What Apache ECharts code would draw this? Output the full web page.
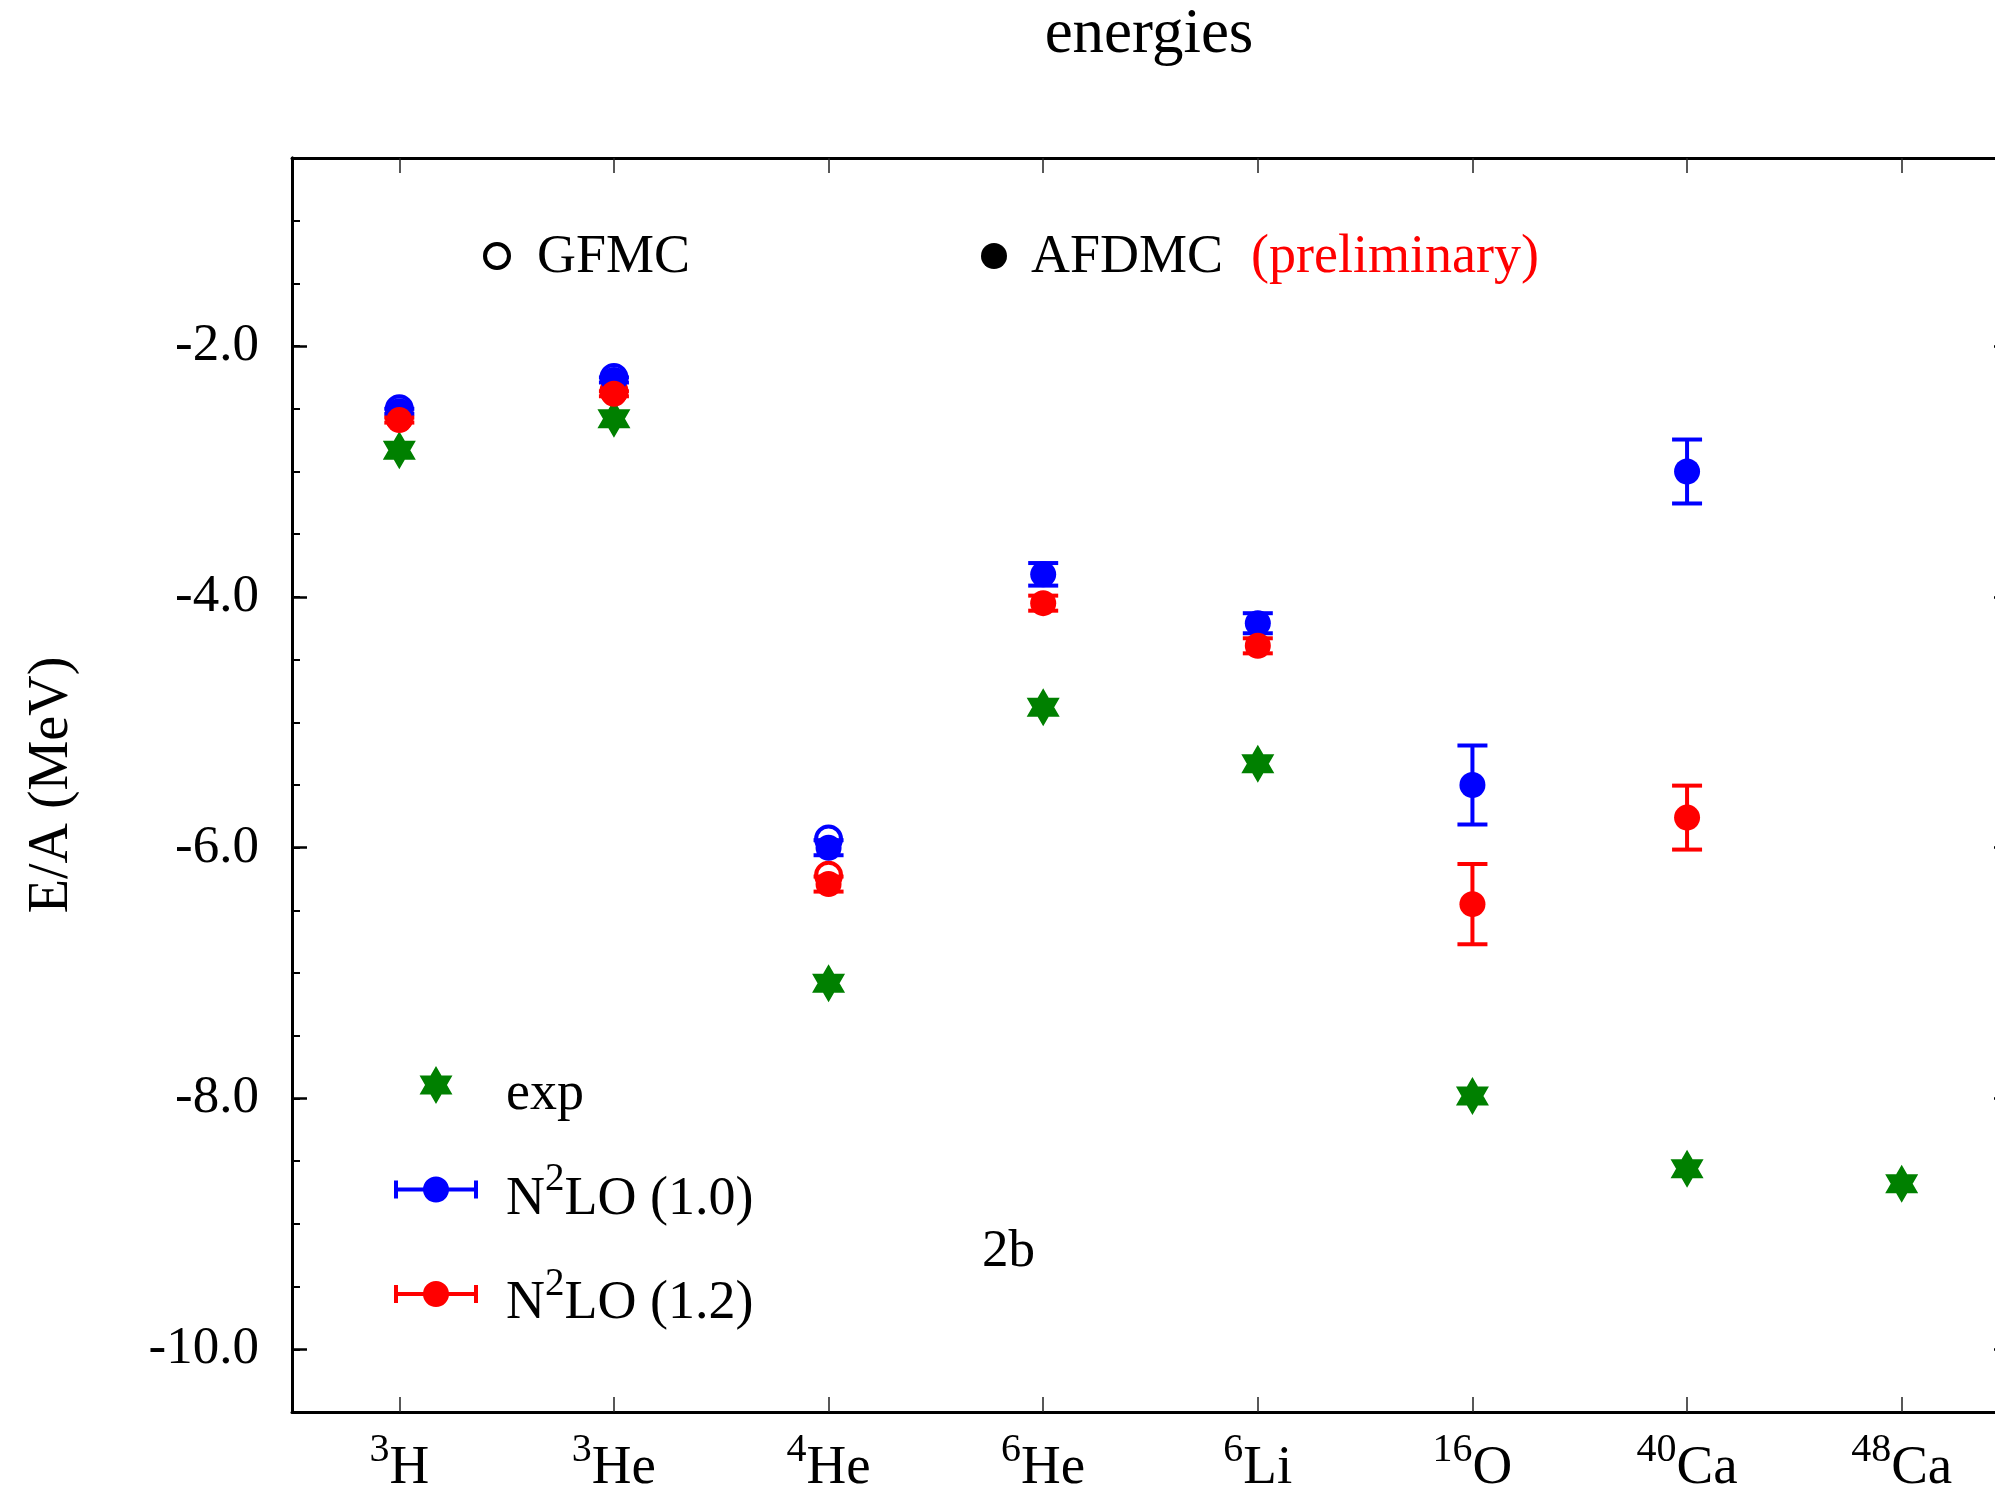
<!DOCTYPE html>
<html>
<head>
<meta charset="utf-8">
<title>energies</title>
<script src="https://cdn.jsdelivr.net/npm/echarts@6/dist/echarts.min.js"></script>
<style>
  html, body { margin: 0; padding: 0; background: #fff; }
  #chart { width: 1995px; height: 1498px; }
</style>
</head>
<body>
<div id="chart"></div>
<script>
// nuclei on the x axis (mass number + element)
const nuclei = ['3H', '3He', '4He', '6He', '6Li', '16O', '40Ca', '48Ca'];

// E/A in MeV
const expEnergy = [-2.83, -2.58, -7.08, -4.88, -5.33, -7.98, -8.56, -8.68];
const gfmc10 = [-2.50, -2.25, -5.93, null, null, null, null, null];
const gfmc12 = [-2.57, -2.36, -6.22, null, null, null, null, null];
const afdmc10 = [-2.52, -2.27, -6.00, -3.82, -4.21, -5.50, -3.00, null];
const afdmc10Err = [0.02, 0.02, 0.06, 0.09, 0.08, 0.315, 0.255, null];
const afdmc12 = [-2.59, -2.38, -6.29, -4.05, -4.39, -6.45, -5.76, null];
const afdmc12Err = [0.02, 0.02, 0.06, 0.06, 0.06, 0.32, 0.255, null];

const yMajorTicks = [-10, -8, -6, -4, -2];
const yMinorTicks = [-10.5, -10, -9.5, -9, -8.5, -8, -7.5, -7, -6.5, -6, -5.5, -5,
  -4.5, -4, -3.5, -3, -2.5, -2, -1.5, -1, -0.5];

const FONT = 'Liberation Serif';
const BLUE = '#0000ff', RED = '#ff0000', GREEN = '#008000';

const starSymbol = 'path://M50,0 L93.3,75 L6.7,75 Z M50,100 L6.7,25 L93.3,25 Z';
const starIcon = 'path://M0,0 Z M107,38 Z M42,0 L58.45,28.5 L25.55,28.5 Z M42,38 L25.55,9.5 L58.45,9.5 Z';
const barIcon = 'path://M0,0 Z M107,38 Z M0,17 L84,17 L84,21 L0,21 Z M0,10 L4,10 L4,28 L0,28 Z ' +
  'M80,10 L84,10 L84,28 L80,28 Z M29,19 A13,13 0 1,1 55,19 A13,13 0 1,1 29,19 Z';

const points = arr => arr.map((v, i) => [i, v]).filter(p => p[1] != null);
const withErr = (arr, err) => arr.map((v, i) => [i, v, err[i]]).filter(p => p[1] != null);

const nucleusLabel = name => {
  const m = name.match(/^(\d+)(\D+)$/);
  return '{sup|' + m[1] + '}{b|' + m[2] + '}';
};

function errorBars(color) {
  return function (params, api) {
    const i = api.value(0), v = api.value(1), e = api.value(2);
    const hi = api.coord([i, v + e]);
    const lo = api.coord([i, v - e]);
    const cap = 15;
    const style = { stroke: color, lineWidth: 4 };
    return {
      type: 'group',
      children: [
        { type: 'line', shape: { x1: hi[0], y1: hi[1], x2: lo[0], y2: lo[1] }, style },
        { type: 'line', shape: { x1: hi[0] - cap, y1: hi[1], x2: hi[0] + cap, y2: hi[1] }, style },
        { type: 'line', shape: { x1: lo[0] - cap, y1: lo[1], x2: lo[0] + cap, y2: lo[1] }, style }
      ]
    };
  };
}

const yBase = {
  type: 'value', min: -10.5, max: -0.5, gridIndex: 0,
  splitLine: { show: false },
  axisLine: { show: true, lineStyle: { color: '#000', width: 3 } },
  axisLabel: { show: false },
};
const xTick = { show: true, inside: true, alignWithLabel: true, length: 15, lineStyle: { color: '#222', width: 1.5 } };
const majorTick = { show: true, inside: true, length: 15, customValues: yMajorTicks, lineStyle: { color: '#000', width: 2.5 } };
const minorTick = { show: true, inside: true, length: 8, customValues: yMinorTicks, lineStyle: { color: '#000', width: 2 } };

const chart = echarts.init(document.getElementById('chart'));
chart.setOption({
  animation: false,
  backgroundColor: '#fff',
  title: {
    text: 'energies', left: 1149, top: 4, padding: 0, textAlign: 'center',
    textStyle: { fontFamily: FONT, fontSize: 63, fontWeight: 'normal', color: '#000', lineHeight: 63 }
  },
  grid: { left: 292, right: -14, top: 158, bottom: 86, outerBoundsMode: 'none', containLabel: false },
  legend: {
    orient: 'vertical', left: 394, top: 1036, padding: 0, itemGap: 6.5,
    itemWidth: 107, itemHeight: 38, selectedMode: false,
    data: [
      { name: 'exp', icon: starIcon, itemStyle: { color: GREEN } },
      { name: 'N2LO (1.0)', icon: barIcon, itemStyle: { color: BLUE } },
      { name: 'N2LO (1.2)', icon: barIcon, itemStyle: { color: RED } }
    ],
    formatter: name => name.replace('N2LO', 'N{sup|2}LO'),
    textStyle: {
      fontFamily: FONT, fontSize: 54, color: '#000', lineHeight: 78, padding: [20, 0, 0, 0],
      rich: { sup: { fontFamily: FONT, fontSize: 39, lineHeight: 38, verticalAlign: 'top', color: '#000' } }
    }
  },
  xAxis: [
    {
      type: 'category', data: nuclei, position: 'bottom',
      axisLine: { lineStyle: { color: '#000', width: 3 } },
      axisTick: xTick,
      axisLabel: {
        margin: 18, formatter: nucleusLabel,
        rich: {
          sup: { fontFamily: FONT, fontSize: 40, lineHeight: 38, verticalAlign: 'top', color: '#000' },
          b: { fontFamily: FONT, fontSize: 55, lineHeight: 78, color: '#000' }
        }
      }
    },
    {
      type: 'category', data: nuclei, position: 'top',
      axisLine: { lineStyle: { color: '#000', width: 3 } },
      axisTick: xTick,
      axisLabel: { show: false }
    }
  ],
  yAxis: [
    Object.assign({}, yBase, {
      position: 'left',
      name: 'E/A (MeV)', nameLocation: 'middle', nameRotate: 90, nameGap: 212,
      nameTextStyle: { fontFamily: FONT, fontSize: 56, color: '#000' },
      axisTick: majorTick,
      axisLabel: {
        show: true, margin: 33, customValues: yMajorTicks,
        formatter: v => v.toFixed(1),
        fontFamily: FONT, fontSize: 53, color: '#000'
      }
    }),
    Object.assign({}, yBase, { position: 'left', axisTick: minorTick }),
    Object.assign({}, yBase, { position: 'right', axisTick: majorTick }),
    Object.assign({}, yBase, { position: 'right', axisTick: minorTick })
  ],
  graphic: [
    { type: 'circle', shape: { cx: 497, cy: 256, r: 12 }, style: { fill: 'none', stroke: '#000', lineWidth: 4 } },
    { type: 'text', x: 537, y: 258, style: { text: 'GFMC', fontFamily: FONT, fontSize: 54, fill: '#000', verticalAlign: 'middle' } },
    { type: 'circle', shape: { cx: 994, cy: 256, r: 13 }, style: { fill: '#000' } },
    { type: 'text', x: 1031, y: 258, style: { text: 'AFDMC', fontFamily: FONT, fontSize: 54, fill: '#000', verticalAlign: 'middle' } },
    { type: 'text', x: 1251, y: 258, style: { text: '(preliminary)', fontFamily: FONT, fontSize: 54, fill: RED, verticalAlign: 'middle' } },
    { type: 'text', x: 982, y: 1252, style: { text: '2b', fontFamily: FONT, fontSize: 53, fill: '#000', verticalAlign: 'middle' } }
  ],
  series: [
    {
      name: 'exp', type: 'scatter', data: points(expEnergy),
      symbol: starSymbol, symbolSize: [33, 38], itemStyle: { color: GREEN, opacity: 1 }
    },
    {
      name: 'GFMC (1.0)', type: 'scatter', data: points(gfmc10), symbol: 'circle', symbolSize: 25,
      itemStyle: { color: 'rgba(0,0,0,0)', borderColor: BLUE, borderWidth: 4, opacity: 1 }
    },
    {
      name: 'GFMC (1.2)', type: 'scatter', data: points(gfmc12), symbol: 'circle', symbolSize: 25,
      itemStyle: { color: 'rgba(0,0,0,0)', borderColor: RED, borderWidth: 4, opacity: 1 }
    },
    {
      name: 'N2LO (1.0)', type: 'scatter', data: points(afdmc10), symbol: 'circle', symbolSize: 26,
      itemStyle: { color: BLUE, opacity: 1 }, z: 4
    },
    {
      name: 'N2LO (1.2)', type: 'scatter', data: points(afdmc12), symbol: 'circle', symbolSize: 26,
      itemStyle: { color: RED, opacity: 1 }, z: 4
    },
    {
      name: 'err (1.0)', type: 'custom', data: withErr(afdmc10, afdmc10Err),
      encode: { x: 0, y: 1 }, renderItem: errorBars(BLUE), z: 3
    },
    {
      name: 'err (1.2)', type: 'custom', data: withErr(afdmc12, afdmc12Err),
      encode: { x: 0, y: 1 }, renderItem: errorBars(RED), z: 3
    }
  ]
});
</script>
</body>
</html>
